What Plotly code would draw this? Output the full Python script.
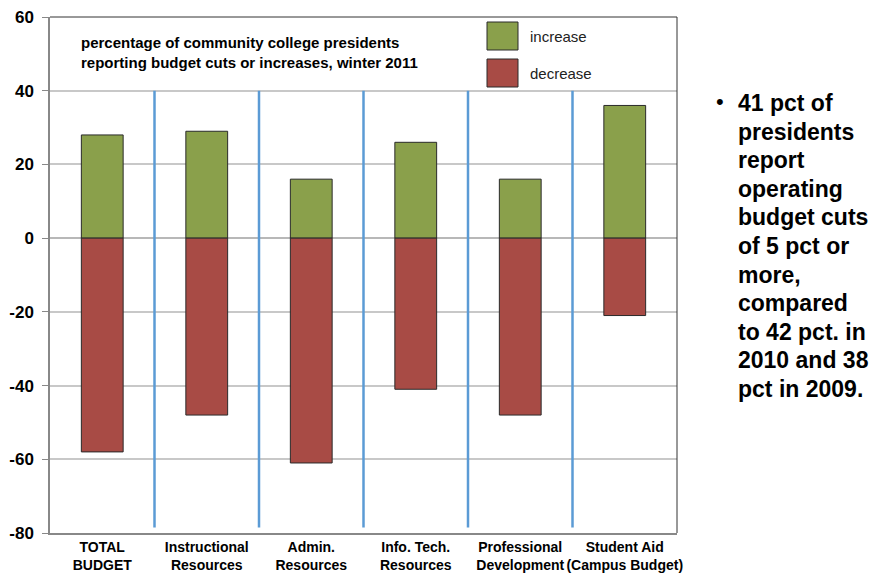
import plotly.graph_objects as go

categories = ['TOTAL<br>BUDGET', 'Instructional<br>Resources', 'Admin.<br>Resources',
              'Info. Tech.<br>Resources', 'Professional<br>Development',
              'Student Aid<br>(Campus Budget)']
increase = [28, 29, 16, 26, 16, 36]
decrease = [-58, -48, -61, -41, -48, -21]
y_ticks = [-80, -60, -40, -20, 0, 20, 40, 60]
y_tick_labels = ['-80', '-60', '-40', '-20', '0', '20', '40', '60']

green = '#8AA04B'
red = '#A84B45'
font = 'Liberation Sans, Arial'

# plot area in pixels (881 x 579 page)
L, R, T, B = 50, 677, 17, 533
px = lambda x: (x - L) / (R - L)
py = lambda y: (B - y) / (B - T)

fig = go.Figure()
fig.add_trace(go.Bar(x=categories, y=increase, name='increase',
                     marker=dict(color=green, line=dict(color='#2a2a2a', width=1)),
                     width=0.4))
fig.add_trace(go.Bar(x=categories, y=decrease, name='decrease',
                     marker=dict(color=red, line=dict(color='#2a2a2a', width=1)),
                     width=0.4))

shapes = []
# blue separators between categories
for i in range(len(categories) - 1):
    shapes.append(dict(type='line', xref='x', yref='y', x0=i + 0.5, x1=i + 0.5,
                       y0=40, y1=-78.5, line=dict(color='#5B9BD5', width=2.5)))
# top and right frame
shapes.append(dict(type='line', xref='paper', yref='paper', x0=0, x1=1, y0=1, y1=1,
                   line=dict(color='#333', width=1)))
shapes.append(dict(type='line', xref='paper', yref='paper', x0=1, x1=1, y0=0, y1=1,
                   line=dict(color='#333', width=1)))
# legend swatches
for j, c in enumerate([green, red]):
    shapes.append(dict(type='rect', xref='paper', yref='paper',
                       x0=px(487), x1=px(518),
                       y0=py(50 + 37 * j), y1=py(22 + 37 * j),
                       fillcolor=c, line=dict(color='#2a2a2a', width=1)))

annotations = [
    dict(text='<b>percentage of community college presidents<br>reporting budget cuts or increases, winter 2011</b>',
         xref='paper', yref='paper', x=px(79), y=py(32),
         xanchor='left', yanchor='top', align='left', showarrow=False,
         font=dict(family=font, size=15, color='black')),
]
for j, t in enumerate(['increase', 'decrease']):
    annotations.append(dict(text=t, xref='paper', yref='paper',
                            x=px(528), y=py(37 + 37 * j),
                            xanchor='left', yanchor='middle', showarrow=False,
                            font=dict(family=font, size=15, color='#222')))

bullet_lines = ['41 pct of', 'presidents', 'report', 'operating', 'budget cuts',
                'of 5 pct or', 'more,', 'compared', 'to 42 pct. in', '2010 and 38',
                'pct in 2009.']
annotations.append(dict(text='•', xref='paper', yref='paper',
                        x=px(714), y=py(102),
                        xanchor='left', yanchor='middle', showarrow=False,
                        font=dict(family=font, size=22, color='black')))
for k, line in enumerate(bullet_lines):
    annotations.append(dict(text='<b>' + line + '</b>', xref='paper', yref='paper',
                            x=px(736), y=py(103 + 28.6 * k),
                            xanchor='left', yanchor='middle', showarrow=False,
                            font=dict(family=font, size=23, color='black')))

fig.update_layout(
    width=881, height=579,
    margin=dict(l=L, r=881 - R, t=T, b=579 - B),
    barmode='relative',
    showlegend=False,
    plot_bgcolor='white', paper_bgcolor='white',
    shapes=shapes, annotations=annotations,
    xaxis=dict(tickfont=dict(family=font, size=14, color='black', weight='bold'),
               tickangle=0, automargin=False,
               showgrid=False, showline=True, linecolor='#888', linewidth=1.5,
               ticks=''),
    yaxis=dict(range=[-80, 60], tickvals=y_ticks, ticktext=y_tick_labels,
               automargin=False, showgrid=True, gridcolor='#c8c8c8',
               gridwidth=1.5, zeroline=True, zerolinecolor='#b8b8b8', zerolinewidth=1.5,
               showline=True, linecolor='#888', linewidth=1.5,
               ticks='outside', ticklen=6, tickcolor='#888', ticklabelstandoff=5,
               tickfont=dict(family=font, size=17, color='black', weight='bold')),
)

fig.write_html('out.html', config={'displayModeBar': False},
               post_script="document.body.style.margin='0';")
